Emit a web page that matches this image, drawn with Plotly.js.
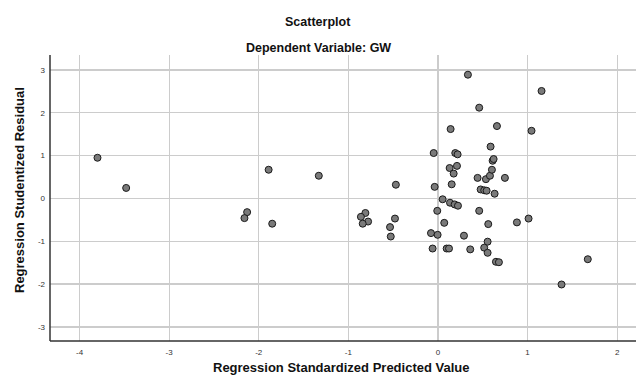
<!DOCTYPE html>
<html>
<head>
<meta charset="utf-8">
<script src="https://cdn.plot.ly/plotly-3.0.1.min.js"></script>
<style>html,body{margin:0;padding:0;background:#fff;}#chart{width:636px;height:376px;}</style>
</head>
<body>
<div id="chart"></div>
<script>
const predicted = [-3.80,-3.48,-2.13,-2.16,-1.89,-1.85,-1.33,-0.81,-0.86,-0.78,-0.84,-0.47,-0.48,-0.535,-0.527,-0.078,-0.06,-0.048,-0.037,-0.008,-0.004,0.052,0.07,0.097,0.123,0.13,0.134,0.141,0.153,0.175,0.186,0.193,0.212,0.219,0.223,0.29,0.334,0.36,0.442,0.46,0.46,0.476,0.516,0.516,0.535,0.543,0.554,0.554,0.561,0.58,0.587,0.602,0.61,0.621,0.632,0.647,0.658,0.68,0.747,0.881,1.011,1.044,1.156,1.379,1.672];
const residual = [0.95,0.245,-0.32,-0.46,0.67,-0.59,0.53,-0.34,-0.43,-0.54,-0.59,0.32,-0.47,-0.67,-0.89,-0.81,-1.17,1.06,0.27,-0.29,-0.85,-0.02,-0.57,-1.17,-1.17,0.71,-0.10,1.62,0.33,0.58,-0.14,1.06,0.76,1.03,-0.17,-0.87,2.89,-1.19,0.48,2.12,-0.29,0.21,0.19,-1.15,0.45,0.18,-1.01,-1.27,-0.60,0.53,1.21,0.67,0.88,0.92,0.11,-1.48,1.69,-1.49,0.48,-0.56,-0.47,1.58,2.51,-2.01,-1.42];
const xTicks = [-4,-3,-2,-1,0,1,2];
const yTicks = [-3,-2,-1,0,1,2,3];
const chartTitle = "Scatterplot";
const chartSubtitle = "Dependent Variable: GW";
const xTitle = "Regression Standardized Predicted Value";
const yTitle = "Regression Studentized Residual";

const FONT = "Liberation Sans, Arial, sans-serif";
const trace = {
  x: predicted, y: residual, type: "scatter", mode: "markers",
  marker: {size: 7, color: "#7a7a7a", line: {color: "#1a1a1a", width: 1}},
  hoverinfo: "skip"
};
const axisCommon = {
  showgrid: true, gridcolor: "#cccccc", gridwidth: 1.3,
  zeroline: false, ticks: "", showline: false,
  tickfont: {family: FONT, size: 8, color: "#333"},
  fixedrange: true
};
const layout = {
  width: 636, height: 376,
  margin: {l: 50, r: 0, t: 55, b: 35},
  paper_bgcolor: "#fff", plot_bgcolor: "#fff",
  showlegend: false,
  font: {family: FONT},
  xaxis: Object.assign({}, axisCommon, {range: [-4.33, 2.21], tickvals: xTicks, ticktext: xTicks.map(String), ticklabelstandoff: 5}),
  yaxis: Object.assign({}, axisCommon, {range: [-3.33, 3.35], tickvals: yTicks, ticktext: yTicks.map(String), ticklabelstandoff: 4}),
  shapes: [
    {type: "line", xref: "paper", yref: "paper", x0: 0, x1: 0, y0: 0, y1: 1, line: {color: "#333", width: 1.5}},
    {type: "line", xref: "paper", yref: "paper", x0: 0, x1: 1, y0: 0, y1: 0, line: {color: "#333", width: 1.5}}
  ],
  annotations: [
    {text: "<b>" + chartTitle + "</b>", xref: "paper", yref: "paper", x: (318-50)/586, y: (341-22)/286, xanchor: "center", yanchor: "middle", showarrow: false, font: {family: FONT, size: 12.5, color: "#111"}},
    {text: "<b>" + chartSubtitle + "</b>", xref: "paper", yref: "paper", x: (318-50)/586, y: (341-48)/286, xanchor: "center", yanchor: "middle", showarrow: false, font: {family: FONT, size: 12.5, color: "#111"}},
    {text: "<b>" + xTitle + "</b>", xref: "paper", yref: "paper", x: (341-50)/586, y: -(367-341)/286, xanchor: "center", yanchor: "middle", showarrow: false, font: {family: FONT, size: 13, color: "#111"}},
    {text: "<b>" + yTitle + "</b>", xref: "paper", yref: "paper", x: (20-50)/586, y: (341-190)/286, xanchor: "center", yanchor: "middle", textangle: -90, showarrow: false, font: {family: FONT, size: 13, color: "#111"}}
  ]
};
Plotly.newPlot("chart", [trace], layout, {displayModeBar: false, staticPlot: true});
</script>
</body>
</html>
